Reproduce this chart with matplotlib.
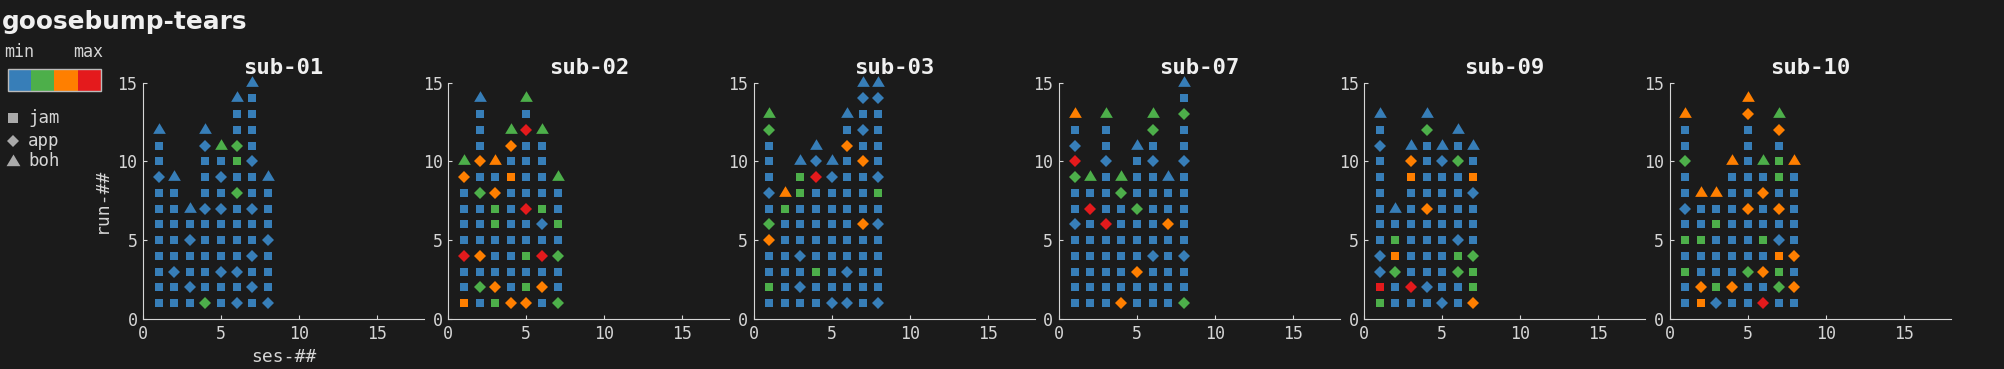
import matplotlib
matplotlib.use("Agg")
import matplotlib.pyplot as plt
from matplotlib.patches import Rectangle

# one string per session (ses-01, ses-02, ...), runs listed from run-01 upward
# j = jam (square), a = app (diamond), h = boh (triangle); digit = colour level 0..3
sub01 = [
    "j0 j0 j0 j0 j0 j0 j0 j0 a0 j0 j0 h0",
    "j0 j0 a0 j0 j0 j0 j0 j0 h0",
    "j0 a0 j0 j0 a0 j0 h0",
    "a1 j0 j0 j0 j0 j0 a0 j0 j0 j0 a0 h0",
    "j0 j0 a0 j0 j0 j0 a0 j0 a0 j0 h1",
    "a0 j0 a0 j0 j0 j0 j0 a1 j0 j1 a1 j0 j0 h0",
    "j0 a0 j0 a0 j0 j0 a0 j0 j0 a0 j0 j0 j0 j0 h0",
    "a0 j0 j0 j0 a0 j0 j0 j0 h0",
]
sub02 = [
    "j2 j0 j0 a3 j0 j0 j0 j0 a2 h1",
    "j0 a1 j0 a2 j0 j0 j0 a1 j0 a2 j0 j0 j0 h0",
    "j1 a2 j0 j0 j0 j1 j1 a2 j0 h2",
    "a2 j0 j0 j0 j0 j0 j0 j0 j2 j0 a2 h1",
    "a2 j1 j0 j1 j0 j0 a3 j0 j0 j0 j0 a3 j0 h1",
    "j0 a2 j0 a3 j0 a0 j1 j0 j0 j0 j0 h1",
    "a1 j0 j0 a1 j0 j1 j0 j0 h1",
]
sub03 = [
    "j0 j1 j0 j0 a2 a1 j0 a0 j0 j0 j0 a1 h1",
    "j0 j0 j0 j0 j0 j0 j1 h2",
    "j0 a0 j0 a0 j0 j0 j0 j1 j1 h0",
    "j0 j0 j1 j0 j0 j0 j0 j0 a3 a0 h0",
    "a0 j0 j0 j0 j0 j0 j0 j0 a0 h0",
    "a0 j0 a0 j0 j0 j0 j0 j0 j0 j0 a2 j0 h0",
    "j0 j0 j0 j0 j0 a2 j0 j0 j0 a2 j0 a0 j0 a0 h0",
    "a0 j0 j0 j0 j0 a0 j0 j1 a0 j0 j0 j0 j0 a0 h0",
]
sub07 = [
    "j0 j0 j0 j0 j0 a0 j0 j0 a1 a3 a0 j0 h2",
    "j0 j0 j0 j0 j0 j0 a3 j0 h1",
    "j0 j0 j0 j0 j0 a3 j0 j0 j0 a0 j0 j0 h1",
    "a2 j0 j0 j0 j0 j0 j0 a1 h1",
    "j0 j0 a2 j0 j0 j0 a1 j0 j0 j0 h0",
    "j0 j0 j0 a0 j0 j0 j0 j0 j0 a0 j0 a1 h1",
    "j0 j0 j0 j0 j0 a2 j0 j0 h0",
    "a1 j0 j0 a0 j0 j0 j0 j0 j0 a0 j0 j0 a1 j0 h0",
]
sub09 = [
    "j1 j3 a0 a0 j0 j0 j0 j0 j0 j0 a0 j0 h0",
    "j0 j0 a1 j2 j1 j0 h0",
    "j0 a3 j0 j0 j0 j0 j0 j0 j2 a2 h0",
    "j0 a0 j0 j0 j0 j0 a2 j0 j0 j0 j0 a1 h0",
    "a0 j0 j0 j0 j0 j0 j0 j0 j0 a0 h0",
    "j0 j0 a1 j1 a0 j0 j0 j0 j0 a1 j0 h0",
    "a2 j1 j1 a1 j0 j0 j0 a0 j2 j0 h0",
]
sub10 = [
    "j0 j0 j1 j0 j1 j0 a0 j0 j0 a1 j0 j0 h2",
    "j2 a2 j0 j0 j1 j0 j0 h2",
    "a0 j1 j0 j0 j0 j1 j0 h2",
    "j0 a2 j0 j0 j0 j0 j0 j0 j0 h2",
    "j0 j0 a1 j0 j0 j0 a2 j0 j0 j0 j0 j0 a2 h2",
    "a3 j0 a2 j0 j1 j0 j0 a2 j0 h1",
    "j0 a1 j1 j2 a0 j0 a2 j0 j1 j1 j0 a2 h1",
    "j0 a2 j0 a2 j0 j0 j0 j0 j0 h2",
]

subjects = ["sub-01", "sub-02", "sub-03", "sub-07", "sub-09", "sub-10"]
sessions = [sub01, sub02, sub03, sub07, sub09, sub10]
levels = ["#377eb8", "#4daf4a", "#ff7f00", "#e41a1c"]
tasks = ["jam", "app", "boh"]
ticks = [0, 5, 10, 15]

bg = "#1b1b1b"
fg = "#d6d6d6"
white = "#f0f0f0"
mono = "DejaVu Sans Mono"

# wide, slightly raised triangle
tri = [(-1, -0.53), (1, -0.53), (0, 1.15), (-1, -0.53)]
markers = {"j": ("s", 5.8), "a": ("D", 5.8), "h": (tri, 10.5)}

W, H = 2004, 369
fig = plt.figure(figsize=(W / 100, H / 100), dpi=100, facecolor=bg)

for i, (name, cols) in enumerate(zip(subjects, sessions)):
    left = 143 + i * 305.3
    ax = fig.add_axes([left / W, 50 / H, 281 / W, 236.3 / H], facecolor=bg)
    for ses, col in enumerate(cols, start=1):
        for run, tok in enumerate(col.split(), start=1):
            mk, ms = markers[tok[0]]
            ax.plot(ses, run, ls="none", marker=mk, ms=ms, mew=0,
                    color=levels[int(tok[1])], clip_on=False)
    ax.set_xlim(0, 18)
    ax.set_ylim(0, 15)
    ax.set_xticks(ticks)
    ax.set_yticks(ticks)
    for s in ["top", "right"]:
        ax.spines[s].set_visible(False)
    for s in ["left", "bottom"]:
        ax.spines[s].set_color(fg)
        ax.spines[s].set_linewidth(0.8)
    ax.tick_params(direction="in", length=3, width=0.8, color=fg,
                   labelcolor=fg, labelsize=12, pad=4)
    for lab in ax.get_xticklabels() + ax.get_yticklabels():
        lab.set_family(mono)
    ax.set_title(name, color=white, fontsize=16, fontweight="bold", family=mono)
    if i == 0:
        ax.set_xlabel("ses-##", color=fg, fontsize=13, family=mono, labelpad=4)
        ax.set_ylabel("run-##", color=fg, fontsize=13, family=mono, labelpad=5)

fig.text(1.4 / W, 1 - 29.5 / H, "goosebump-tears", color=white,
         fontsize=17.8, fontweight="bold", family="DejaVu Sans", va="baseline")

# legend drawn in pixel coordinates
lax = fig.add_axes([0, 0, 1, 1], facecolor="none")
lax.set_xlim(0, W)
lax.set_ylim(H, 0)
lax.axis("off")

lax.text(4, 57, "min", color=fg, fontsize=12, family=mono, va="baseline")
lax.text(73, 57, "max", color=fg, fontsize=12, family=mono, va="baseline")
cw = (100.7 - 8.3) / len(levels)
for k, c in enumerate(levels):
    lax.add_patch(Rectangle((8.3 + k * cw, 69.3), cw, 21.4, facecolor=c, edgecolor="none"))
lax.add_patch(Rectangle((8.3, 69.3), 92.4, 21.4, facecolor="none", edgecolor="#bbbbbb", lw=1))

leg_mk = [("s", 7.2), ("D", 6.5), (tri, 11.5)]
leg_y = [117.7, 140.7, 161.5]
for (mk, ms), y, t in zip(leg_mk, leg_y, tasks):
    lax.plot(13.5, y, ls="none", marker=mk, ms=ms, mew=0, color="#aaaaaa")
    lax.text(28, y + 5, t, color=fg, fontsize=12.5, family=mono, va="baseline")

fig.savefig("out.png", dpi=100, facecolor=bg)
